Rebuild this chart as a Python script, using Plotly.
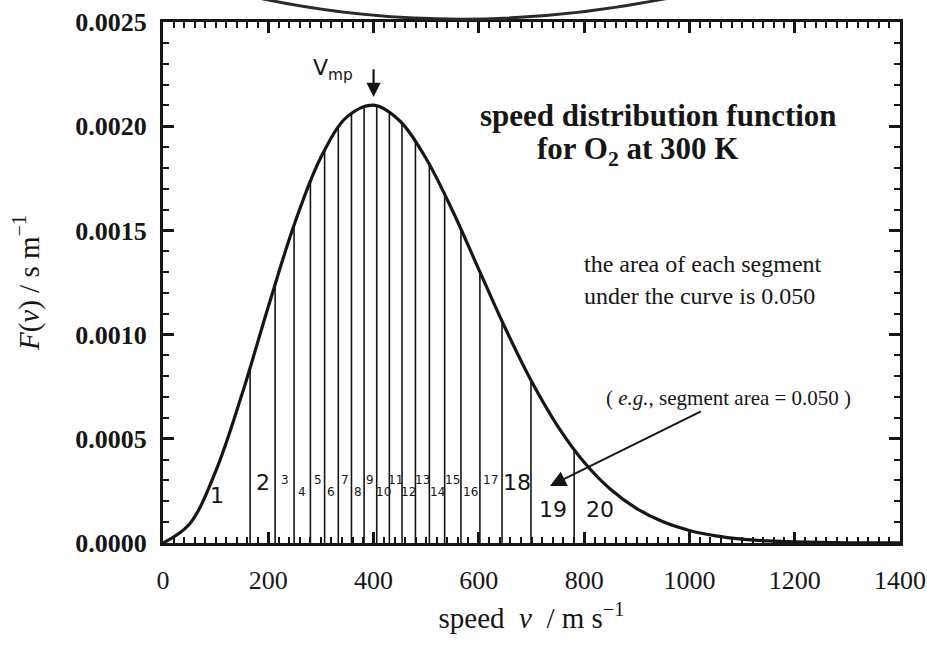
import plotly.graph_objects as go

# ---- data ----
speed = [0, 50, 100, 150, 200, 250, 300, 350, 400, 450, 500, 550, 600, 650, 700,
         750, 800, 850, 900, 950, 1000, 1050, 1100, 1150, 1200, 1250, 1300, 1350, 1400]
density = [0.0, 0.0000901, 0.0003434, 0.0007133, 0.0011337, 0.0015333, 0.0018511,
           0.0020459, 0.0021011, 0.0020250, 0.0018437, 0.0015940, 0.0013121, 0.0010315,
           0.0007762, 0.0005600, 0.0003876, 0.0002580, 0.0001650, 0.0001016, 0.0000603,
           0.0000345, 0.0000190, 0.0000101, 0.0000052, 0.0000026, 0.0000012, 0.0000005,
           0.0000002]

# segment boundaries (each segment has area 0.050) and the curve height there
boundaries = [165.5, 213, 249, 280, 307, 333, 358, 382, 406, 430, 454, 479.5, 506,
              535, 566, 602, 644, 699, 781]
boundary_heights = [0.000842, 0.001245, 0.001528, 0.001737, 0.001889, 0.001996,
                    0.002064, 0.002097, 0.002099, 0.002070, 0.002014, 0.001929,
                    0.001816, 0.001674, 0.001504, 0.001301, 0.001063, 0.000783,
                    0.000448]
segment_labels = [str(i) for i in range(1, 21)]

x_ticks = [0, 200, 400, 600, 800, 1000, 1200, 1400]
y_ticks = [0.0, 0.0005, 0.0010, 0.0015, 0.0020, 0.0025]

INK = "#161616"
SERIF = "Liberation Serif"
HAND = "DejaVu Sans"

fig = go.Figure()

# vertical segment lines
vx, vy = [], []
for b, h in zip(boundaries, boundary_heights):
    vx += [b, b, None]
    vy += [0, h, None]
fig.add_trace(go.Scatter(x=vx, y=vy, mode="lines",
                         line=dict(color=INK, width=1.6), hoverinfo="skip",
                         showlegend=False))

# distribution curve
fig.add_trace(go.Scatter(x=speed, y=density, mode="lines",
                         line=dict(color=INK, width=3.2, shape="spline", smoothing=1.0),
                         showlegend=False))

# handwritten segment numbers
edges = [40] + boundaries + [880]
mids = [(edges[i] + edges[i + 1]) / 2 for i in range(len(edges) - 1)]
big = {"1", "2", "18", "19", "20"}
for i, (lab, m) in enumerate(zip(segment_labels, mids)):
    if lab in ("19", "20"):
        yy = 0.000160
    elif lab == "1":
        yy = 0.000230
    elif lab in ("2", "18"):
        yy = 0.000290
    else:
        yy = 0.000300 if i % 2 == 0 else 0.000245
    fig.add_annotation(x=m, y=yy, text=lab, showarrow=False,
                       font=dict(family=HAND, size=22 if lab in big else 12, color=INK))

# Vmp marker
fig.add_annotation(x=400, y=0.00214, ax=400, ay=0.00228, axref="x", ayref="y",
                   xref="x", yref="y", text="", showarrow=True, arrowhead=2,
                   arrowsize=1.3, arrowwidth=2.2, arrowcolor=INK)
fig.add_annotation(x=322, y=0.002274, text="V<sub>mp</sub>", showarrow=False,
                   font=dict(family=HAND, size=22, color=INK))

# title inside the plot
fig.add_annotation(x=941, y=0.002049, text="<b>speed distribution function</b>",
                   showarrow=False, font=dict(family=SERIF, size=31, color=INK))
fig.add_annotation(x=901, y=0.001881, text="<b>for O<sub>2</sub> at 300 K</b>",
                   showarrow=False, font=dict(family=SERIF, size=31, color=INK))

# note
fig.add_annotation(x=796, y=0.001339, text="the area of each segment",
                   xanchor="left", showarrow=False,
                   font=dict(family=SERIF, size=24, color=INK))
fig.add_annotation(x=796, y=0.001185, text="under the curve is 0.050",
                   xanchor="left", showarrow=False,
                   font=dict(family=SERIF, size=24, color=INK))
# example note with its arrow pointing into segment 19
fig.add_annotation(x=735, y=0.000274, ax=1074, ay=0.000696, axref="x", ayref="y",
                   xref="x", yref="y",
                   text="( <i>e.g.</i>, segment area = 0.050 )",
                   showarrow=True, arrowhead=2, arrowsize=1.6, arrowwidth=2,
                   arrowcolor=INK, font=dict(family=SERIF, size=21, color=INK))

# handwritten arc above the frame (scan artefact)
fig.add_shape(type="path", xref="paper", yref="paper",
              path="M 0.1330,1.045 Q 0.40,0.966 0.6830,1.045",
              line=dict(color="#2a2a2a", width=3))

axis_common = dict(showline=True, linecolor=INK, linewidth=3, mirror="ticks",
                   ticks="inside", ticklen=11, tickwidth=2.5, tickcolor=INK,
                   showgrid=False, zeroline=False, automargin=False)

xminor = dict(ticks="inside", dtick=20, tick0=0, ticklen=6, tickwidth=2,
              tickcolor=INK, showgrid=False)
yminor = dict(ticks="inside", dtick=0.0001, tick0=0, ticklen=6, tickwidth=2,
              tickcolor=INK, showgrid=False)

fig.update_layout(
    xaxis=dict(range=[0, 1400], tickvals=x_ticks,
               ticktext=[str(t) for t in x_ticks], minor=xminor,
               tickfont=dict(family=SERIF, size=26, color=INK),
               ticklabelstandoff=12,
               title=dict(text="speed  <i>v</i>  / m s<sup>−1</sup>",
                          font=dict(family=SERIF, size=29, color=INK), standoff=14),
               **axis_common),
    yaxis=dict(range=[0, 0.0025], tickvals=y_ticks,
               ticktext=[f"{t:.4f}" for t in y_ticks], minor=yminor,
               tickfont=dict(family=SERIF, size=26, color=INK, weight="bold"),
               ticklabelstandoff=8,
               title=dict(text="<i>F</i>(<i>v</i>) / s m<sup>−1</sup>",
                          font=dict(family=SERIF, size=29, color=INK), standoff=28),
               **axis_common),
    width=927, height=666,
    margin=dict(l=163, r=27, t=22, b=123),
    paper_bgcolor="white", plot_bgcolor="white",
    showlegend=False)

fig.write_html("out.html", config={"displayModeBar": False},
               post_script="document.body.style.margin='0px';"
                           "document.body.style.padding='0px';")
